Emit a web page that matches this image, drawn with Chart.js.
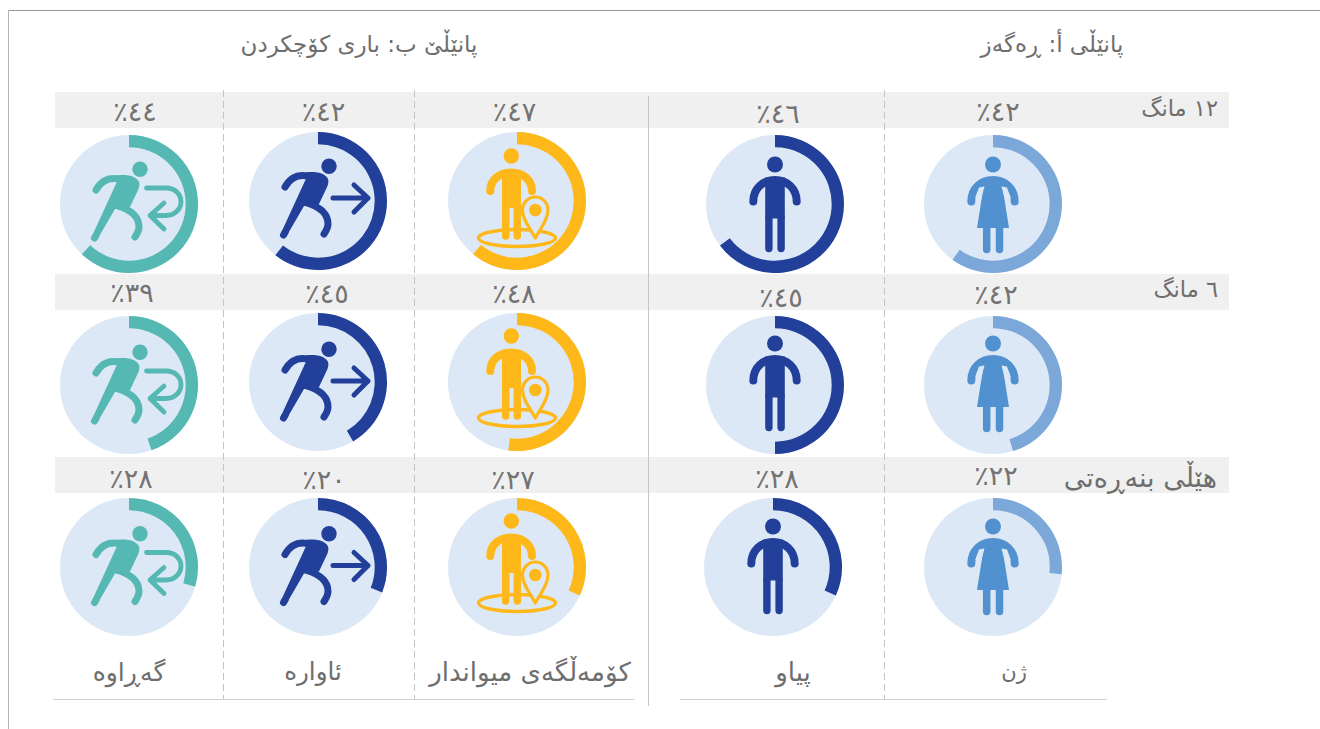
<!DOCTYPE html>
<html lang="ckb"><head><meta charset="utf-8">
<title>Panels</title>
<script src="https://cdn.jsdelivr.net/npm/chart.js@4/dist/chart.umd.min.js"></script>
<style>
html,body{margin:0;padding:0;background:#fff;width:1320px;height:729px;overflow:hidden}
#stage{position:relative;width:1320px;height:729px;font-family:"DejaVu Sans",sans-serif;color:#6e6e6e}
#stage>*{position:absolute}
.t{direction:rtl;white-space:nowrap;line-height:1;transform:translate(-50%,-50%);unicode-bidi:isolate}
.r{direction:rtl;white-space:nowrap;line-height:1;transform:translateY(-50%);unicode-bidi:isolate}
.dash{width:1px;background:repeating-linear-gradient(to bottom,#c4c4c4 0 7px,transparent 7px 11px)}
canvas{display:block}
</style></head><body><div id="stage"></div>
<script>
// ---- data (top row = 12 months, middle = 6 months, bottom = baseline) ----
const panelTitles = ["پانێڵی أ: ڕەگەز", "پانێڵێ ب: باری کۆچکردن"];
const timeRows = ["١٢ مانگ", "٦ مانگ", "هێڵی بنەڕەتی"];
const groups = ["ژن", "پیاو", "کۆمەڵگەی میواندار", "ئاوارە", "گەڕاوە"];
// printed percentages
const womenLabel    = [42, 42, 22];
const menLabel      = [46, 45, 28];
const hostLabel     = [47, 48, 27];
const displacedLabel= [42, 45, 20];
const returneeLabel = [44, 39, 28];
// length of each ring as drawn
const womenRing     = [60, 45.3, 26.7];
const menRing       = [64.7, 50, 31.8];
const hostRing      = [61, 52, 31.8];
const displacedRing = [60.6, 41.5, 31];
const returneeRing  = [62, 44.7, 29.6];

const labelSets = [womenLabel, menLabel, hostLabel, displacedLabel, returneeLabel];
const ringSets  = [womenRing, menRing, hostRing, displacedRing, returneeRing];

// ---- layout & style ----
const BG = "#dde8f6";
const ringColors = ["#7ba7d9", "#223f99", "#ffb81a", "#223f99", "#56b8b2"];
const iconColors = ["#5291d0", "#223f99", "#ffb81a", "#223f99", "#56b8b2"];
const iconKinds  = ["woman", "man", "host", "out", "back"];
const centerX = [[993.3,775,516.6,318.2,129],[993.3,774.7,516.6,318,129],[993.3,773,516.6,318,129]];
const centerY = [[203.5,203.5,201,201,203.5],[384.7,384.7,382,382,384.7],[567.3,567.3,567.3,567.3,567.3]];
const pctX = [[998,778,514.5,323.5,135],[996,781,514,327,132],[996,777,513,324,131]];
const pctY = [[111,113,111,111,111],[294,297,293,293,292],[475,478,479,479,478]];
const iconDy = {woman:[1.5,-.5,.5], man:[1.5,-.5,.5], host:[1,0,0], out:[-1,1,0.5], back:[-1,1,.5]};

const stage = document.getElementById("stage");
function box(css, cls){ const d=document.createElement("div"); d.style.cssText=css; if(cls)d.className=cls; stage.appendChild(d); return d; }
function text(s,x,y,size,cls){ const d=box(`left:${x}px;top:${y}px;font-size:${size}px`,cls||"t"); d.textContent=s; return d; }
function arabicDigits(n){ return String(n).replace(/\d/g,c=>"٠١٢٣٤٥٦٧٨٩"[+c]); }

// frame
box("left:8px;top:10px;width:1312px;height:1px;background:#999");
box("left:8px;top:10px;width:1px;height:719px;background:#b5b5b5");
// bands
[[92,36],[274,36],[457,36]].forEach(b=>box(`left:55px;top:${b[0]}px;width:1174px;height:${b[1]}px;background:#f0f0f0`));
// rules
[223,414,884].forEach(x=>box(`left:${x}px;top:90px;height:610px`,"dash"));
box("left:648px;top:96px;width:1px;height:610px;background:#c4c4c4");
box("left:53px;top:699px;width:581px;height:1px;background:#cfcfcf");
box("left:680px;top:699px;width:427px;height:1px;background:#cfcfcf");

// titles
text(panelTitles[0],1052,44,23);
text(panelTitles[1],359,44,23);
// row labels
const rowRight=[102,102,103], rowTop=[108,289,477], rowSize=[22.5,22.5,27];
timeRows.forEach((s,i)=>{ const d=text(s,0,rowTop[i],rowSize[i],"r"); d.style.left="auto"; d.style.right=rowRight[i]+"px"; });
// column labels
const groupX=[1014,793,530,313,129], groupSize=[21,26,26,24.5,25];
groups.forEach((s,i)=>text(s,groupX[i],672,groupSize[i]));

// ---- icons ----
function line(c,w,p){ c.lineWidth=w; c.lineCap="round"; c.lineJoin="round"; c.stroke(new Path2D(p)); }
function fill(c,p){ c.fill(new Path2D(p)); }
function dot(c,x,y,r){ c.beginPath(); c.arc(x,y,r,0,Math.PI*2); c.fill(); }
function person(c,ox,oy,body){
  dot(c,ox,oy-41,8);
  line(c,8,`M${ox-21.7} ${oy-4}C${ox-21.7} ${oy-17} ${ox-12} ${oy-25.5} ${ox} ${oy-25.5}C${ox+12} ${oy-25.5} ${ox+21.7} ${oy-17} ${ox+21.7} ${oy-4}`);
  body();
}
function runner(c){
  dot(c,11,-33.7,7.7);
  line(c,7,"M-33 -13C-28 -22 -20 -26 -10 -24");
  fill(c,"M-12 -27.5C-2 -29 6 -27 9.5 -22C11 -20 10.5 -17 9.5 -14L1 4L-14 6L-32 37L-37 33L-11.7 -22Z");
  line(c,7,"M-34.5 35L-33 32.5");
  line(c,7,"M-11 3C2 7 10 13 10 24C10 28 8 31 6 34");
}
const icons={
  woman(c,col){ person(c,0,0,()=>{
    fill(c,"M-8 -28L8 -28L16 22.5L-16 22.5Z");
    line(c,7.5,"M-6.3 22L-6.3 44M6.5 22L6.5 44");
    c.fillStyle=BG; fill(c,"M-8.5 -19L-14 -18L-17.7 -8L-14.5 -4L-12 -6Z M8.5 -19L14 -18L17.7 -8L14.5 -4L12 -6Z"); c.fillStyle=col;
  });},
  man(c,col){ person(c,0,0,()=>{
    fill(c,"M-9.8 -28H9.8V13H-9.8Z");
    line(c,7.4,"M-6.1 12L-6.1 43M6.1 12L6.1 43");
  });},
  host(c,col){
    dot(c,-5.7,-46,7.7);
    line(c,8,"M-26.7 -11C-26.7 -22 -18 -29.5 -5.7 -29.5C6 -29.5 15 -22 15 -11");
    fill(c,"M-15 -30H4V6H-15Z");
    line(c,7.5,"M-11.3 5L-11.3 34M0.3 5L0.3 34");
    c.strokeStyle=col; c.beginPath(); c.ellipse(0,36,38.5,8.5,0,0,Math.PI*2); c.lineWidth=3.4; c.stroke();
    const pin="M18.3 36C13 26 5.5 18 5.5 8C5.5 1 11 -5 18.3 -5C25.5 -5 31 1 31 8C31 18 23.5 26 18.3 36Z";
    c.fillStyle=BG; fill(c,pin); c.fillStyle=col;
    line(c,3.2,pin);
    dot(c,18.3,8,6.3);
  },
  out(c){ runner(c);
    line(c,5,"M15 -2L50 -2M36 -15L50 -2L36 12");
  },
  back(c){ runner(c);
    line(c,4.8,"M17.5 -15L37 -15C46 -15 52 -9 52 -1.5C52 6 46 12.5 37 12.5L21 12.5M35 0L21 12.5L35 26");
  }
};

const roundel={
  id:"roundel",
  beforeDatasetsDraw(ch,a,o){
    const {ctx}=ch, m=ch.getDatasetMeta(0).data[0];
    ctx.save(); ctx.fillStyle=BG; ctx.beginPath(); ctx.arc(m.x,m.y,m.outerRadius,0,Math.PI*2); ctx.fill(); ctx.restore();
  },
  afterDatasetsDraw(ch,a,o){
    const {ctx}=ch, m=ch.getDatasetMeta(0).data[0];
    ctx.save(); ctx.translate(m.x,m.y+o.dy); ctx.fillStyle=o.color; ctx.strokeStyle=o.color;
    icons[o.kind](ctx,o.color); ctx.restore();
  }
};
Chart.register(roundel);

const S=140;
ringSets.forEach((ring,g)=>ring.forEach((v,r)=>{
  const cv=document.createElement("canvas");
  cv.width=S;cv.height=S;
  cv.style.cssText=`position:absolute;left:${centerX[r][g]-S/2}px;top:${centerY[r][g]-S/2}px;width:${S}px;height:${S}px`;
  stage.appendChild(cv);
  new Chart(cv,{type:"doughnut",
    data:{labels:[groups[g],""],datasets:[{data:[v,100-v],backgroundColor:[ringColors[g],"rgba(0,0,0,0)"],borderWidth:0}]},
    options:{responsive:false,animation:false,radius:69,cutout:57.5,layout:{padding:0},
      plugins:{legend:{display:false},tooltip:{enabled:false},
        roundel:{kind:iconKinds[g],color:iconColors[g],dy:iconDy[iconKinds[g]][r]}}}
  });
  const t=text(arabicDigits(labelSets[g][r])+"٪",pctX[r][g],pctY[r][g],27);
  t.style.color="#737373";
}));
</script></body></html>
